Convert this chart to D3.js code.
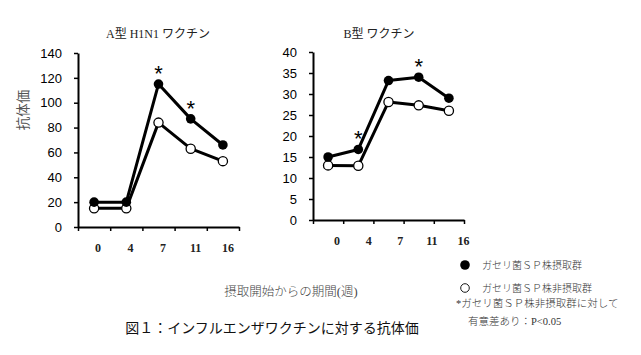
<!DOCTYPE html>
<html><head><meta charset="utf-8">
<script src="https://cdn.jsdelivr.net/npm/d3@7"></script>
<style>
html,body{margin:0;padding:0;background:#fff;}
svg{display:block;}
</style></head>
<body>
<svg id="c" width="641" height="355"></svg>
<script>
// ---- data ----
const weeks = ["0", "4", "7", "11", "16"];
const aTakeValues = [20, 20, 115, 87, 66];      // ガセリ菌SP株摂取群 (A型)
const aNoTakeValues = [15, 15, 84, 63, 53];     // ガセリ菌SP株非摂取群 (A型)
const aStars = ["7", "11"];
const bTakeValues = [15, 16.8, 33.2, 34, 29];   // 摂取群 (B型)
const bNoTakeValues = [13, 12.9, 28.1, 27.3, 26]; // 非摂取群 (B型)
const bStars = ["4", "11"];
const aTicks = [0, 20, 40, 60, 80, 100, 120, 140];
const bTicks = [0, 5, 10, 15, 20, 25, 30, 35, 40];
const aTitle = "A型 H1N1 ワクチン";
const bTitle = "B型 ワクチン";
const yLabel = "抗体価";
const xLabel = "摂取開始からの期間(週)";
const figTitle = "図１：インフルエンザワクチンに対する抗体価";
const legendItems = ["ガセリ菌ＳＰ株摂取群", "ガセリ菌ＳＰ株非摂取群"];
const noteLines = ["*ガセリ菌ＳＰ株非摂取群に対して", "有意差あり：P<0.05"];

const svg = d3.select("#c");
const SANS = "'Liberation Sans', Arial, 'Noto Sans CJK JP', sans-serif";
const SERIF = "'Liberation Serif', 'DejaVu Serif', 'Noto Sans CJK JP', serif";
const CJK = "'Noto Sans CJK JP', sans-serif";

function panel(cfg) {
  const x = d3.scaleBand().domain(weeks).range([cfg.x0, cfg.x1]).padding(0);
  const y = d3.scaleLinear().domain([0, cfg.ymax]).range([cfg.y0, cfg.y1]);
  const g = svg.append("g");

  // y axis
  const ya = g.append("g").attr("transform", `translate(${cfg.x0},0)`)
    .call(d3.axisLeft(y).tickValues(cfg.ticks).tickSize(4).tickPadding(12).tickSizeOuter(0));
  ya.select(".domain").attr("stroke", "#000").attr("stroke-width", 2);
  ya.selectAll(".tick line").attr("stroke", "#000").attr("stroke-width", 1.5);
  ya.selectAll("text").attr("font-family", SANS).attr("font-size", 13).attr("fill", "#000");

  // x axis: ticks at band boundaries
  const bx = d3.scaleLinear().domain([0, weeks.length]).range([cfg.x0, cfg.x1]);
  const xa = g.append("g").attr("transform", `translate(0,${cfg.y0})`)
    .call(d3.axisBottom(bx).tickValues(d3.range(weeks.length + 1))
      .tickSize(4).tickSizeOuter(0).tickFormat(""));
  xa.select(".domain").attr("stroke", "#000").attr("stroke-width", 2);
  xa.selectAll(".tick line").attr("stroke", "#000").attr("stroke-width", 1.5);

  // x labels
  g.selectAll("text.xl").data(weeks).join("text").attr("class", "xl")
    .attr("x", (d, i) => x(d) + x.bandwidth() / 2 + cfg.labelDx + i * cfg.labelStep)
    .attr("y", cfg.y0 + 21)
    .attr("text-anchor", "middle").attr("dominant-baseline", "central")
    .attr("font-family", SERIF).attr("font-size", 12).attr("font-weight", "bold")
    .attr("fill", "#222").text(d => d);

  const line = d3.line().x((d, i) => x(weeks[i]) + x.bandwidth() / 2).y(d => y(d));
  [cfg.noTake, cfg.take].forEach(vals => {
    g.append("path").datum(vals).attr("d", line)
      .attr("fill", "none").attr("stroke", "#000").attr("stroke-width", 3)
      .attr("stroke-linejoin", "round");
  });
  g.selectAll("circle.o").data(cfg.noTake).join("circle").attr("class", "o")
    .attr("cx", (d, i) => x(weeks[i]) + x.bandwidth() / 2).attr("cy", d => y(d))
    .attr("r", 4.6).attr("fill", "#fff").attr("stroke", "#000").attr("stroke-width", 1.3);
  g.selectAll("circle.f").data(cfg.take).join("circle").attr("class", "f")
    .attr("cx", (d, i) => x(weeks[i]) + x.bandwidth() / 2).attr("cy", d => y(d))
    .attr("r", 4.8).attr("fill", "#000");

  // significance stars
  g.selectAll("text.st").data(cfg.stars).join("text").attr("class", "st")
    .attr("x", d => x(d) + x.bandwidth() / 2)
    .attr("y", d => y(cfg.take[weeks.indexOf(d)]) - 3)
    .attr("text-anchor", "middle")
    .attr("font-family", SANS).attr("font-size", 22).text("*");

  // title
  g.append("text").attr("x", cfg.titleX).attr("y", 34)
    .attr("text-anchor", "middle").attr("dominant-baseline", "central")
    .attr("font-family", SERIF).attr("font-size", 12).attr("fill", "#222").text(cfg.title);
}

panel({x0: 78, x1: 239, y0: 227, y1: 53, ymax: 140, ticks: aTicks,
  take: aTakeValues, noTake: aNoTakeValues, stars: aStars, title: aTitle,
  titleX: 158, labelDx: 4, labelStep: 0.3});
panel({x0: 313, x1: 464, y0: 220, y1: 52, ymax: 40, ticks: bTicks,
  take: bTakeValues, noTake: bNoTakeValues, stars: bStars, title: bTitle,
  titleX: 379, labelDx: 9, labelStep: 1.4});

// y label
svg.append("text").attr("transform", "translate(22,110) rotate(-90)")
  .attr("text-anchor", "middle").attr("dominant-baseline", "central")
  .attr("font-family", CJK).attr("font-size", 13.5).attr("fill", "#555").text(yLabel);

// x label
svg.append("text").attr("x", 291).attr("y", 292)
  .attr("text-anchor", "middle").attr("dominant-baseline", "central")
  .attr("font-family", SERIF).attr("font-size", 12.5).attr("font-weight", 300)
  .attr("fill", "#444").text(xLabel);

// figure title
svg.append("text").attr("x", 272).attr("y", 327)
  .attr("text-anchor", "middle").attr("dominant-baseline", "central")
  .attr("font-family", CJK).attr("font-size", 14).attr("font-weight", 400)
  .attr("fill", "#111").text(figTitle);

// legend
const lg = svg.append("g");
lg.append("circle").attr("cx", 465).attr("cy", 265).attr("r", 4.8).attr("fill", "#000");
lg.append("circle").attr("cx", 465).attr("cy", 288).attr("r", 4.3).attr("fill", "#fff")
  .attr("stroke", "#000").attr("stroke-width", 0.9);
lg.selectAll("text.li").data(legendItems).join("text").attr("class", "li")
  .attr("x", 482).attr("y", (d, i) => 265 + i * 23)
  .attr("dominant-baseline", "central")
  .attr("font-family", SERIF).attr("font-size", 10).attr("font-weight", 300)
  .attr("fill", "#333").text(d => d);
lg.selectAll("text.nt").data(noteLines).join("text").attr("class", "nt")
  .attr("x", (d, i) => i === 0 ? 456 : 468).attr("y", (d, i) => 303 + i * 18)
  .attr("dominant-baseline", "central")
  .attr("font-family", SERIF).attr("font-size", 10.5).attr("font-weight", 300)
  .attr("fill", "#333").text(d => d);
</script>
</body></html>
